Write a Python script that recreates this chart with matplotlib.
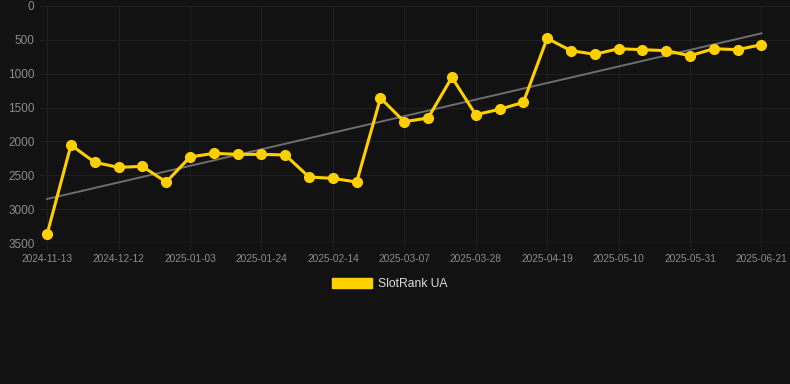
import numpy as np
import matplotlib
matplotlib.use("Agg")
import matplotlib.pyplot as plt
from matplotlib.patches import Patch

# weekly-ish snapshots, only every 3rd date is labelled on the chart
dates = ["2024-11-13", "2024-11-22", "2024-12-02", "2024-12-12", "2024-12-19",
         "2024-12-26", "2025-01-03", "2025-01-10", "2025-01-17", "2025-01-24",
         "2025-01-31", "2025-02-07", "2025-02-14", "2025-02-21", "2025-02-28",
         "2025-03-07", "2025-03-14", "2025-03-21", "2025-03-28", "2025-04-04",
         "2025-04-11", "2025-04-19", "2025-04-26", "2025-05-03", "2025-05-10",
         "2025-05-17", "2025-05-24", "2025-05-31", "2025-06-07", "2025-06-14",
         "2025-06-21"]
rank = [3367, 2053, 2309, 2383, 2368, 2600, 2230, 2176, 2191, 2191,
        2200, 2526, 2545, 2600, 1359, 1709, 1654, 1053, 1605, 1526,
        1423, 477, 660, 713, 631, 645, 660, 734, 631, 645,
        571]
y_ticks = [0, 500, 1000, 1500, 2000, 2500, 3000, 3500]

BG = "#121212"
GOLD = "#ffd000"
GRID = "#1f1f1f"
TXT = "#8c8c8c"

plt.rcParams['font.family'] = ['Liberation Sans', 'DejaVu Sans']

fig = plt.figure(figsize=(7.9, 3.84), dpi=100, facecolor=BG)
ax = fig.add_axes([40 / 790, 1 - 243 / 384, 750 / 790, 237 / 384])
ax.set_facecolor(BG)

x = np.arange(len(rank))
y = np.array(rank)

# trend line (least squares)
k, b = np.polyfit(x, y, 1)
ax.plot(x, k * x + b, color="#6e6e6e", lw=1.4, zorder=2)

ax.plot(x, y, color=GOLD, lw=2.2, marker="o", ms=7, zorder=3)

ax.set_ylim(3500, 0)
ax.set_xlim(-0.3, 31.2)
ax.set_yticks(y_ticks)
ax.set_yticklabels([str(v) for v in y_ticks], fontsize=8.5, color=TXT)
ax.set_xticks(x[::3])
ax.set_xticklabels(dates[::3], fontsize=7.3, color=TXT)

ax.grid(True, color=GRID, lw=0.8)
ax.tick_params(axis="x", length=5, color=GRID, pad=3)
ax.tick_params(axis="y", length=0, pad=4)
for s in ax.spines.values():
    s.set_visible(False)
ax.axhline(3500, color="#2c2c2c", lw=1, zorder=1)

leg = fig.legend(handles=[Patch(facecolor=GOLD, edgecolor=GOLD, label="SlotRank UA")],
                 loc="center", bbox_to_anchor=(390 / 790, 1 - 284 / 384),
                 frameon=False, fontsize=8.7, handlelength=3.3, handleheight=0.9,
                 handletextpad=0.5)
for t in leg.get_texts():
    t.set_color("#dddddd")

fig.savefig("out.png", dpi=100, facecolor=BG)
